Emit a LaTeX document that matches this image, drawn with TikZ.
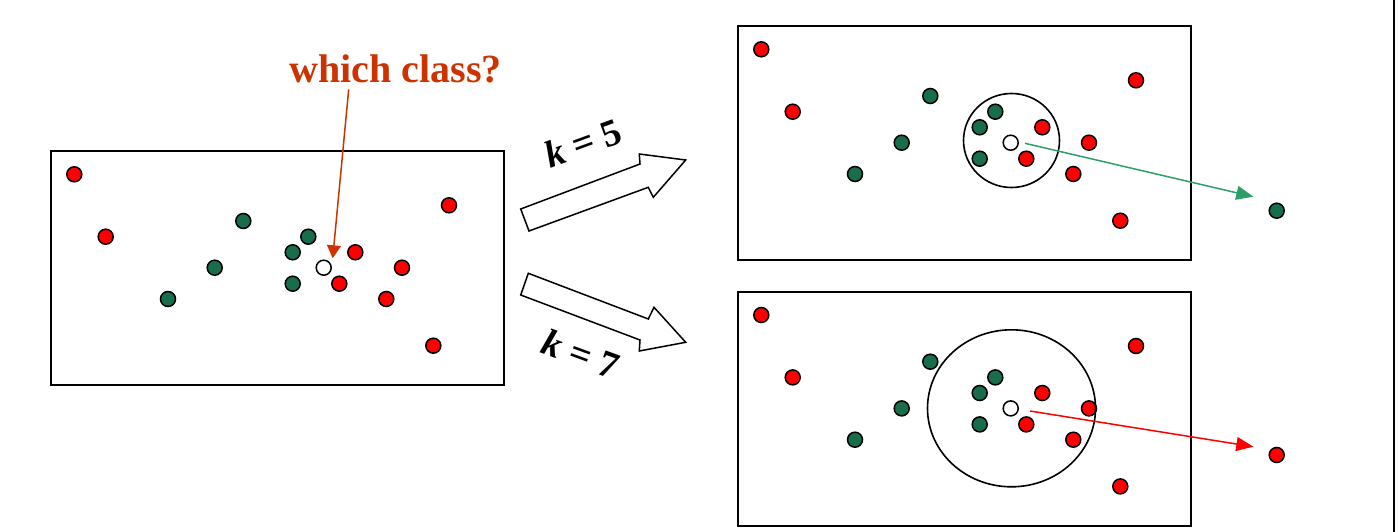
\documentclass[tikz,border=0pt]{standalone}
\usepackage{fontspec}
\setmainfont{Liberation Serif}
\usetikzlibrary{arrows.meta,shapes.geometric}
\definecolor{dotred}{HTML}{FF0000}
\definecolor{dotgreen}{HTML}{186E4B}
\definecolor{qcol}{HTML}{CC3300}
\definecolor{arrgreen}{HTML}{2E9E68}
\tikzset{
  pt/.style={circle,draw=black,line width=1.5pt,minimum size=15pt,inner sep=0pt},
  rdot/.style={pt,fill=dotred},
  gdot/.style={pt,fill=dotgreen},
  wdot/.style={pt,fill=white},
  frame/.style={draw=black,line width=2pt,minimum width=453pt,minimum height=234pt,inner sep=0pt},
  ring/.style={draw=black,line width=1.6pt,ellipse,inner sep=0pt},
  blockarrow/.style={draw=black,fill=white,line width=1.5pt,line join=miter},
  klabel/.style={font=\fontsize{38}{44}\selectfont\bfseries,inner sep=0pt},
}
\newcommand{\dotlayout}[1]{%
  \foreach \n/\x/\y in {1/74.3/174.3,2/105.7/236.7,3/449/205.3,4/355.3/252.3,5/402/267.7,6/339.3/283.7,7/386.3/299,8/433.3/345.7}
    {\node[rdot] (#1-r\n) at (\x,\y) {};}
  \foreach \n/\x/\y in {1/243.3/221,2/308.3/236.7,3/292.7/252.3,4/214.7/267.7,5/292.7/283.7,6/168/299}
    {\node[gdot] (#1-g\n) at (\x,\y) {};}
  \node[wdot] (#1-w) at (323.7,267.7) {};
}
\begin{document}
\begin{tikzpicture}[x=1pt,y=-1pt]
\useasboundingbox (0,0) rectangle (1398,532);
% right edge line
\coordinate (vt) at (1393.5,0);
\coordinate (vb) at (1393.5,532);
\draw[line width=2pt] (vt) -- (vb);
% frames
\node[frame] (L) at (277.5,268) {};
\node[frame] (T) at (964.5,143) {};
\node[frame] (B) at (964.5,408.7) {};
% dots
\dotlayout{L}
\begin{scope}[xshift=687pt,yshift=125pt]
\dotlayout{T}
\end{scope}
\begin{scope}[xshift=687pt,yshift=-140.7pt]
\dotlayout{B}
\end{scope}
% neighbourhood rings
\node[ring,minimum width=96pt,minimum height=94pt] (c5) at (1011.5,140.5) {};
\node[ring,minimum width=168pt,minimum height=157pt] (c7) at (1011.5,408.3) {};
% question
\node[font=\fontsize{40}{48}\selectfont\bfseries,text=qcol,anchor=base,inner sep=0pt] (q) at (395.8,83) {which class?};
\coordinate (qs) at (348.7,89.3);
\coordinate (qt) at (332.7,258.3);
\draw[qcol,line width=1.5pt,-{Triangle[length=13pt,width=14pt]}] (qs) -- (qt);
% block arrows
\draw[blockarrow] (520.7,209) -- (640,164) -- (639.3,154) -- (685.7,160) -- (653.3,197.3) -- (648.3,187.3) -- (529,231) -- cycle;
\draw[blockarrow] (528.3,273.3) -- (648.3,319) -- (654,307.3) -- (685.7,342.3) -- (639.3,351) -- (640,340) -- (520.7,295) -- cycle;
\node[klabel,rotate=20] (k5) at (583,143) {\textit{k} = 5};
\node[klabel,rotate=-20] (k7) at (581,354) {\textit{k} = 7};
% results
\node[gdot] (resG) at (1276.7,210.7) {};
\node[rdot] (resR) at (1276.7,455) {};
\coordinate (gs) at (1025,143.3);
\coordinate (gt) at (1253.3,196.7);
\coordinate (rs) at (1030,411);
\coordinate (rt) at (1253.3,446.7);
\draw[arrgreen,line width=1.5pt,-{Triangle[length=17pt,width=14pt]}] (gs) -- (gt);
\draw[dotred,line width=1.5pt,-{Triangle[length=17pt,width=14pt]}] (rs) -- (rt);
\end{tikzpicture}
\end{document}
